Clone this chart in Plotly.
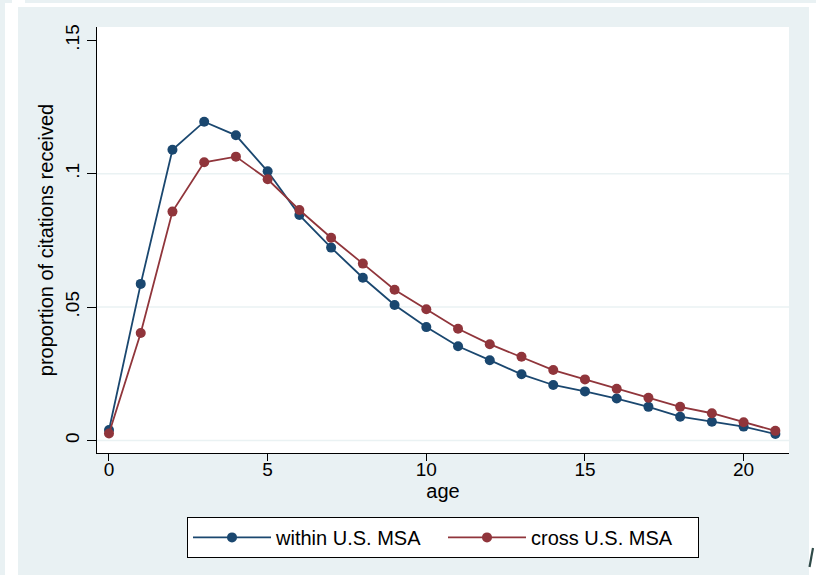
import plotly.graph_objects as go

age = list(range(22))
within_msa = [0.0039, 0.0587, 0.1090, 0.1195, 0.1144, 0.1009, 0.0845, 0.0723, 0.0610, 0.0508,
              0.0425, 0.0353, 0.0301, 0.0248, 0.0208, 0.0184, 0.0157, 0.0126, 0.0089, 0.0070,
              0.0052, 0.0024]
cross_msa = [0.0026, 0.0403, 0.0858, 0.1043, 0.1064, 0.0979, 0.0864, 0.0760, 0.0663, 0.0565,
             0.0492, 0.0419, 0.0361, 0.0314, 0.0264, 0.0229, 0.0194, 0.0160, 0.0126, 0.0102,
             0.0068, 0.0036]
x_ticks = [0, 5, 10, 15, 20]
y_ticks = [0, 0.05, 0.1, 0.15]
y_tick_labels = ["0", ".05", ".1", ".15"]
grid_vals = [0, 0.05, 0.1]

BG = "#e9f1f3"
BLUE = "#1a476f"
RED = "#90353b"
FONT = "Liberation Sans, Arial, sans-serif"

fig = go.Figure()
fig.add_trace(go.Scatter(x=age, y=within_msa, mode="lines+markers", name="within U.S. MSA",
                         line=dict(color=BLUE, width=1.8), marker=dict(color=BLUE, size=10)))
fig.add_trace(go.Scatter(x=age, y=cross_msa, mode="lines+markers", name="cross U.S. MSA",
                         line=dict(color=RED, width=1.8), marker=dict(color=RED, size=10)))

shapes = []
# outer frame decorations (white strips around the graph region)
for (x0, y0, x1, y1) in [(5, 3, 18, 575), (5, 3, 816, 7), (809, 3, 816, 575), (12, 0, 25, 3)]:
    shapes.append(dict(type="rect", xref="paper", yref="paper", layer="below",
                       x0=(x0 - 97) / 692, x1=(x1 - 97) / 692,
                       y0=(453 - y1) / 426, y1=(453 - y0) / 426,
                       fillcolor="white", line=dict(width=0)))
for g in grid_vals:
    shapes.append(dict(type="line", xref="paper", yref="y", x0=0, x1=1, y0=g, y1=g,
                       layer="below", line=dict(color="#eaf2f3", width=1.5)))
# small stray stroke at bottom right
shapes.append(dict(type="line", xref="paper", yref="paper",
                   x0=(813 - 97) / 692, x1=(809.5 - 97) / 692,
                   y0=(453 - 548) / 426, y1=(453 - 567) / 426,
                   line=dict(color="#2f4a48", width=2.2)))

fig.update_layout(
    width=816, height=575,
    margin=dict(l=97, r=27, t=27, b=122),
    paper_bgcolor=BG, plot_bgcolor="white",
    font=dict(family=FONT, color="black", size=20),
    shapes=shapes,
    showlegend=True,
    legend=dict(orientation="h", x=0.5, xanchor="center", y=-0.15, yanchor="top",
                bgcolor="white", bordercolor="black", borderwidth=1,
                font=dict(size=20, family=FONT), entrywidth=162, itemwidth=78),
    xaxis=dict(range=[-0.378, 21.43], tickvals=x_ticks, showgrid=False, zeroline=False,
               showline=True, linecolor="black", linewidth=1, ticks="outside", ticklen=7,
               tickcolor="black", tickfont=dict(size=19), ticklabelstandoff=-8,
               title=dict(text="age", font=dict(size=20), standoff=0)),
    yaxis=dict(range=[-0.0047, 0.155], tickvals=y_ticks, ticktext=y_tick_labels, tickangle=-90,
               showgrid=False, zeroline=False, showline=True, linecolor="black", linewidth=1,
               ticks="outside", ticklen=9, tickcolor="black", tickfont=dict(size=19),
               title=dict(text="proportion of citations received", font=dict(size=20), standoff=3)),
)

fig.write_html("out.html", post_script="document.body.style.margin='0';",
               config={"displayModeBar": False})
